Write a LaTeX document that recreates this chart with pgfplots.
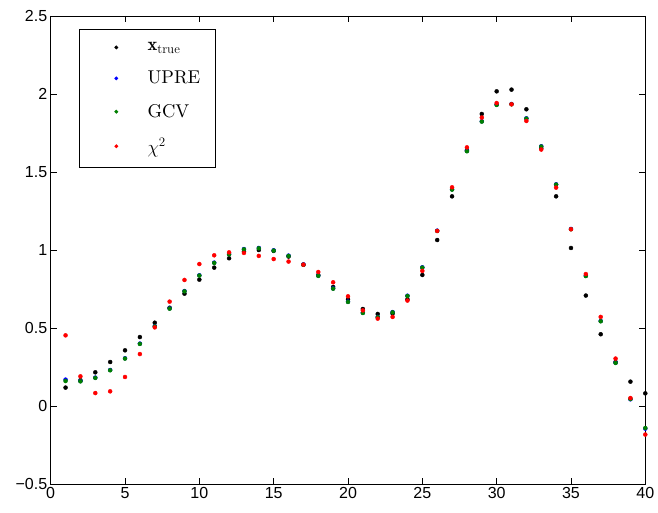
\RequirePackage{fix-cm}
\documentclass[border=0pt]{standalone}
\usepackage{pgfplots}
\usepackage{pgfplotstable}
\usepackage{fontspec}
\pgfplotsset{compat=1.18}
\newfontfamily\helv{Liberation Sans}
\newfontfamily\lmten{lmroman10-regular.otf}[BoldFont=lmroman10-bold.otf, ItalicFont=lmroman10-italic.otf]

% columns: x, x_true, UPRE, GCV, chi^2
\pgfplotstableread{
x  xtrue   upre    gcv     chi
1  0.118   0.169   0.160   0.453
2  0.165   0.160   0.158   0.190
3  0.216   0.182   0.180   0.083
4  0.282   0.231   0.229   0.094
5  0.357   0.306   0.304   0.186
6  0.442   0.400   0.398   0.333
7  0.534   0.512   0.510   0.504
8  0.630   0.626   0.624   0.669
9  0.720   0.737   0.735   0.808
10 0.810   0.838   0.836   0.910
11 0.887   0.919   0.917   0.966
12 0.947   0.974   0.972   0.985
13 0.990   1.006   1.004   0.981
14 1.000   1.013   1.011   0.962
15 0.994   0.998   0.996   0.942
16 0.958   0.964   0.962   0.926
17 0.905   0.908   0.906   0.906
18 0.840   0.836   0.834   0.859
19 0.763   0.754   0.752   0.793
20 0.684   0.669   0.667   0.703
21 0.622   0.598   0.596   0.613
22 0.590   0.571   0.569   0.560
23 0.592   0.602   0.600   0.571
24 0.684   0.707   0.705   0.676
25 0.840   0.889   0.887   0.866
26 1.064   1.124   1.122   1.122
27 1.344   1.389   1.387   1.402
28 1.640   1.635   1.633   1.658
29 1.872   1.825   1.823   1.849
30 2.017   1.932   1.930   1.942
31 2.028   1.936   1.934   1.934
32 1.902   1.844   1.842   1.827
33 1.652   1.665   1.663   1.644
34 1.344   1.421   1.419   1.400
35 1.013   1.135   1.133   1.133
36 0.708   0.835   0.833   0.846
37 0.460   0.545   0.543   0.571
38 0.282   0.278   0.276   0.304
39 0.156   0.043   0.045   0.051
40 0.081  -0.145  -0.141  -0.183
}\data

\definecolor{mgreen}{rgb}{0,0.5,0}

\begin{document}
\begin{tikzpicture}
\begin{axis}[
    scale only axis,
    width=594.6pt,
    height=468pt,
    xmin=0, xmax=40,
    ymin=-0.5, ymax=2.5,
    xtick={0,5,...,40},
    ytick={-0.5,0,0.5,1,1.5,2,2.5},
    yticklabels={−0.5,0,0.5,1,1.5,2,2.5},
    tick align=inside,
    major tick length=6pt,
    axis line style={line width=0.8pt},
    tick style={line width=0.6pt, black},
    /pgf/number format/assume math mode=true,
    tick label style={font=\helv\fontsize{16}{18}\selectfont},
    every axis plot/.append style={only marks, mark=*, mark size=2pt},
    legend cell align=left,
    legend image code/.code={\path (0pt,0pt) (30pt,0pt);
        \draw[#1, mark size=1.6pt] plot coordinates {(23.4pt,0pt)};},
    legend style={at={(0.0481,0.9716)}, anchor=north west,
        draw=black, line width=0.6pt, fill=white,
        font=\lmten\fontsize{18.5}{22}\selectfont,
        inner xsep=13pt, inner ysep=11pt, row sep=15pt,
        /tikz/every odd column/.append style={column sep=22.4pt}},
]
\addplot[black] table[x=x, y=xtrue] {\data};
\addplot[blue] table[x=x, y=upre] {\data};
\addplot[mgreen] table[x=x, y=gcv] {\data};
\addplot[red] table[x=x, y=chi] {\data};
\legend{$\mathbf{x}_{\mathrm{true}}$, UPRE, GCV, $\chi^2$}
\end{axis}
\path (current axis.south west) +(-50.7pt,-28pt) (current axis.north east) +(12.7pt,16pt);
\end{tikzpicture}
\end{document}
